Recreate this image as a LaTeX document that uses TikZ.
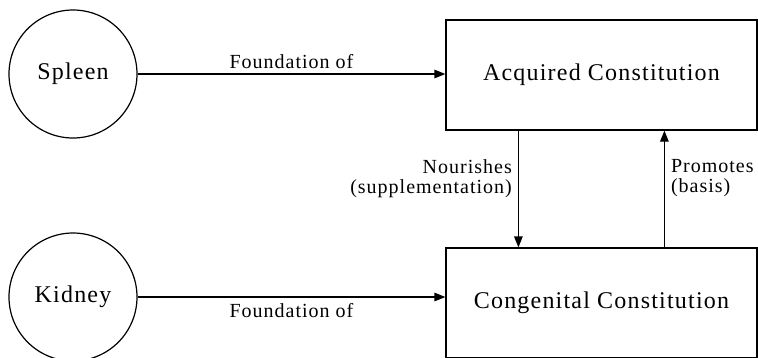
\documentclass[tikz,border=0pt]{standalone}
\usepackage{fontspec}
\setmainfont{Liberation Serif}[LetterSpace=5]
\usepackage{tikz}
\usetikzlibrary{arrows.meta}

\tikzset{
  organ/.style={draw, circle, line width=1.2pt, minimum size=128pt, inner sep=0pt, font=\fontsize{24}{28}\selectfont},
  constbox/.style={draw, rectangle, line width=1.2pt, minimum width=311pt, minimum height=110pt, inner sep=0pt, font=\fontsize{24}{28}\selectfont},
  link/.style={line width=1.2pt, -{Triangle[length=11pt,width=8.5pt]}},
  linklabel/.style={font=\fontsize{20}{20}\selectfont, inner sep=3pt}
}

\begin{document}
\begin{tikzpicture}[x=1pt, y=-1pt]
    \useasboundingbox (0, 0) rectangle (758, 357);

    % Draw organs
    \node[organ] (spleen) at (73, 74) {Spleen};
    \node[organ] (kidney) at (73, 297) {Kidney};

    % Draw constitutions
    \node[constbox] (acquired) at (601.5, 75) {Acquired Constitution};
    \node[constbox] (congenital) at (601.5, 303) {Congenital Constitution};

    % Draw foundation links
    \draw[link] (spleen.east) -- (spleen.east -| acquired.west)
      node[linklabel, midway, above, inner sep=5pt] {Foundation of};
    \draw[link] (kidney.east) -- (kidney.east -| congenital.west)
      node[linklabel, midway, below, yshift=-3pt] {Foundation of};

    % Draw links between the two boxes
    \draw[link] ([xshift=73pt]acquired.south west) -- ([xshift=73pt]congenital.north west)
      node[linklabel, pos=0.4, left, align=right, inner sep=6pt, text depth=2pt] {Nourishes\\(supplementation)};
    \draw[link] ([xshift=219pt]congenital.north west) -- ([xshift=219pt]acquired.south west)
      node[linklabel, pos=0.6, right, align=left, inner sep=6pt, text depth=2pt] {Promotes\\(basis)};
\end{tikzpicture}
\end{document}
